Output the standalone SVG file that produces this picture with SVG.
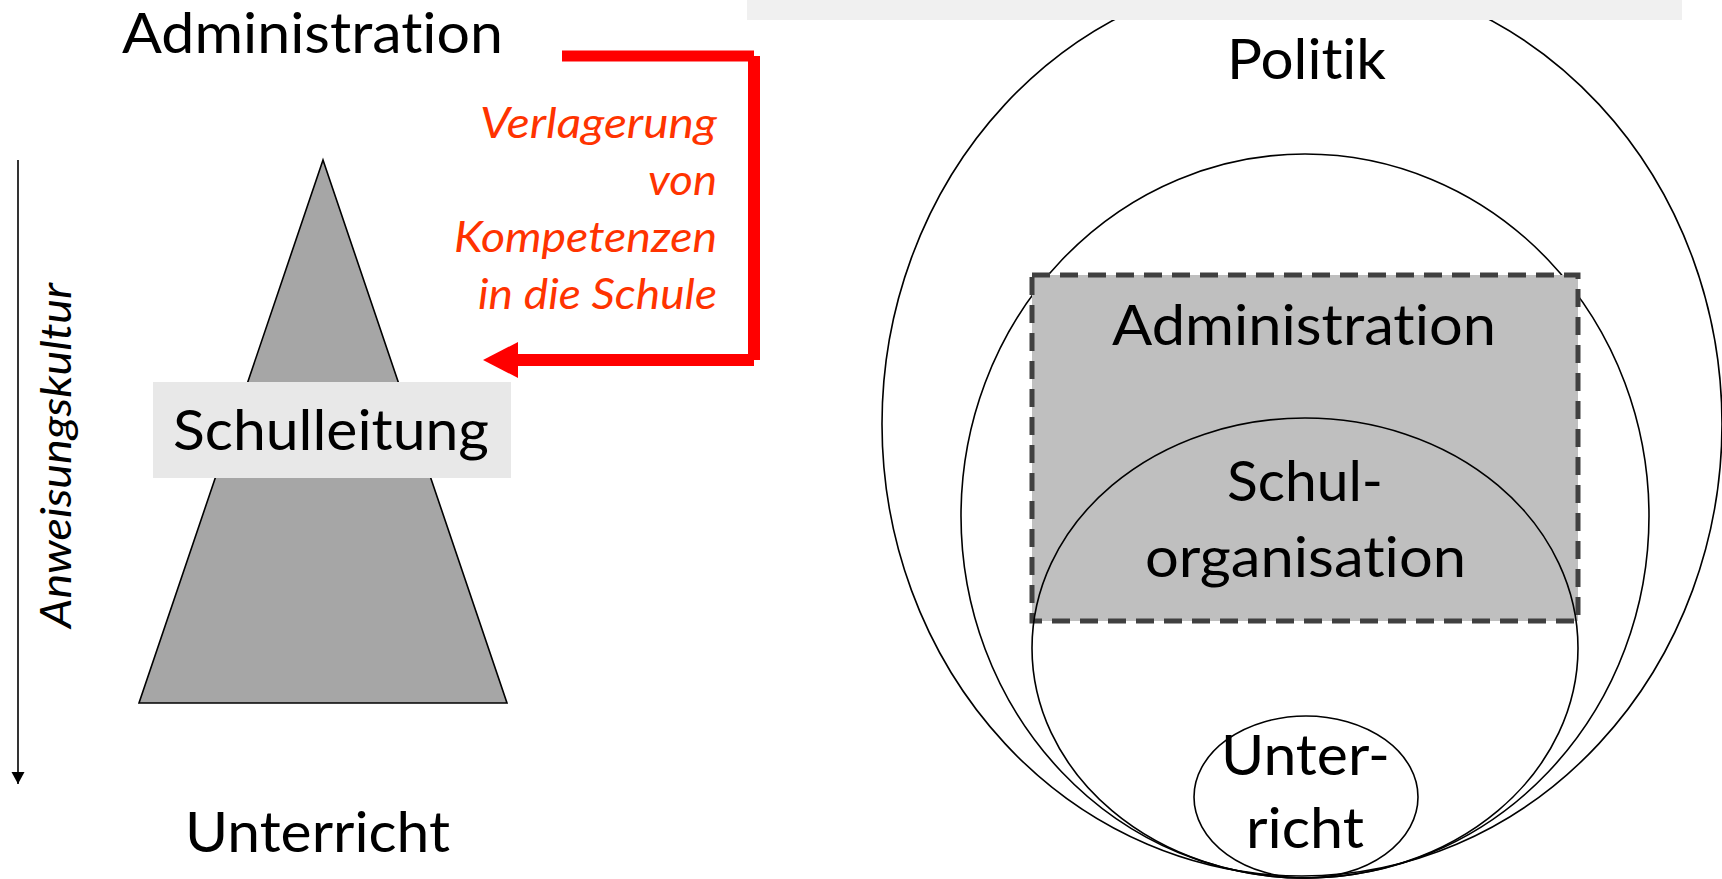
<svg xmlns="http://www.w3.org/2000/svg" width="1722" height="879" viewBox="0 0 1722 879">
<style>
text{font-variant-ligatures:none;font-feature-settings:"liga" 0,"clig" 0,"dlig" 0}
.t{font-family:Lato,"Open Sans","Liberation Sans",sans-serif;font-size:57px;fill:#000}
.r{font-family:Lato,"Open Sans","Liberation Sans",sans-serif;font-size:43px;font-style:italic;fill:#ff3300}
.k{font-family:Lato,"Open Sans","Liberation Sans",sans-serif;font-size:43px;font-style:italic;fill:#000}
.ell{fill:none;stroke:#000;stroke-width:1.6}
.red{stroke:#ff0000;fill:none}
</style>
<defs>
<marker id="ah" markerWidth="14" markerHeight="14" refX="12" refY="7" orient="auto" markerUnits="userSpaceOnUse">
<path d="M0,0.5 L12,7 L0,13.5 Z" fill="#000"/>
</marker>
</defs>
<rect width="1722" height="879" fill="#fff"/>

<g id="pyramid">
<polygon points="323,160 139,703 507,703" fill="#a6a6a6" stroke="#000" stroke-width="1.6"/>
</g>
<g id="administration-left">
<text class="t" x="122" y="53" textLength="381" lengthAdjust="spacingAndGlyphs">Administration</text>
</g>
<g id="schulleitung">
<rect x="153" y="382" width="358" height="96" fill="#e8e8e8"/>
<text class="t" x="173" y="450" textLength="316" lengthAdjust="spacingAndGlyphs">Schulleitung</text>
</g>
<g id="unterricht-left">
<text class="t" x="185" y="852" textLength="265" lengthAdjust="spacingAndGlyphs">Unterricht</text>
</g>
<g id="anweisungskultur">
<text class="k" transform="translate(71,628) rotate(-90)" x="0" y="0" textLength="345" lengthAdjust="spacingAndGlyphs">Anweisungskultur</text>
</g>
<g id="verlagerung-label">
<text class="r" x="480" y="138" textLength="237" lengthAdjust="spacingAndGlyphs">Verlagerung</text>
<text class="r" x="648" y="195" textLength="69" lengthAdjust="spacingAndGlyphs">von</text>
<text class="r" x="454" y="252" textLength="263" lengthAdjust="spacingAndGlyphs">Kompetenzen</text>
<text class="r" x="478" y="309" textLength="239" lengthAdjust="spacingAndGlyphs">in die Schule</text>
</g>

<g id="politik">
<ellipse class="ell" cx="1302" cy="424" rx="420" ry="452"/>
</g>
<g id="verwaltung">
<ellipse class="ell" cx="1305" cy="516" rx="344" ry="362"/>
</g>
<g id="administration-right">
<rect x="1032" y="275" width="546" height="346" fill="#bfbfbf" stroke="#404040" stroke-width="5" stroke-dasharray="18 10"/>
</g>
<g id="schulorganisation">
<ellipse class="ell" cx="1305" cy="648" rx="273" ry="230"/>
</g>
<g id="unterricht-right">
<ellipse class="ell" cx="1306" cy="797" rx="112" ry="81" fill="#fff"/>
</g>
<text class="t" x="1227" y="79" textLength="159" lengthAdjust="spacingAndGlyphs">Politik</text>
<text class="t" x="1112" y="345" textLength="384" lengthAdjust="spacingAndGlyphs">Administration</text>
<text class="t" x="1227" y="501" textLength="156" lengthAdjust="spacingAndGlyphs">Schul-</text>
<text class="t" x="1145" y="577" textLength="321" lengthAdjust="spacingAndGlyphs">organisation</text>
<text class="t" x="1221" y="775" textLength="169" lengthAdjust="spacingAndGlyphs">Unter-</text>
<text class="t" x="1246" y="848" textLength="118" lengthAdjust="spacingAndGlyphs">richt</text>

<rect id="banner" x="747" y="0" width="935" height="20" fill="#f0f0f0"/>

<g id="connectors">
<line x1="18" y1="160" x2="18" y2="784" stroke="#000" stroke-width="1.6" marker-end="url(#ah)"/>
<line class="red" x1="562" y1="56" x2="754" y2="56" stroke-width="11"/>
<line class="red" x1="754" y1="56" x2="754" y2="360" stroke-width="12"/>
<line class="red" x1="754" y1="360" x2="516" y2="360" stroke-width="12"/>
<polygon points="483,360 518,342 518,378" fill="#ff0000"/>
</g>
</svg>
